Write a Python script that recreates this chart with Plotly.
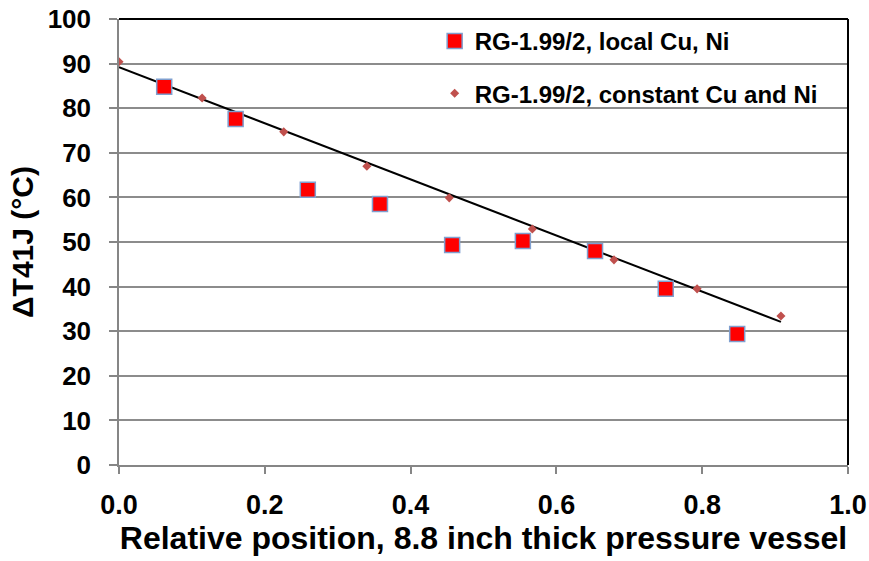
import numpy as np
import plotly.graph_objects as go

# Data
local_x = [0.062, 0.160, 0.259, 0.358, 0.457, 0.554, 0.653, 0.750, 0.848]
local_y = [84.8, 77.6, 61.7, 58.5, 49.3, 50.2, 48.0, 39.5, 29.4]

const_x = [0.0, 0.114, 0.226, 0.340, 0.453, 0.567, 0.679, 0.793, 0.908]
const_y = [90.4, 82.3, 74.7, 67.0, 59.9, 52.9, 46.0, 39.5, 33.4]

x_ticks = [0.0, 0.2, 0.4, 0.6, 0.8, 1.0]
x_tick_labels = ["0.0", "0.2", "0.4", "0.6", "0.8", "1.0"]
y_ticks = list(range(0, 101, 10))
y_tick_labels = [str(v) for v in y_ticks]

# Linear trendline of the constant-Cu/Ni series
slope, intercept = np.polyfit(const_x, const_y, 1)
trend_x = [const_x[0], const_x[-1]]
trend_y = [intercept + slope * v for v in trend_x]

FONT = "Liberation Sans, Arial, sans-serif"

def b(s):
    return "<b>" + s + "</b>"

fig = go.Figure()
fig.add_trace(go.Scatter(
    x=trend_x, y=trend_y, mode="lines",
    line=dict(color="black", width=2), showlegend=False, hoverinfo="skip"))
fig.add_trace(go.Scatter(
    x=local_x, y=local_y, mode="markers", name=b("RG-1.99/2, local Cu, Ni"),
    legendgroup="a",
    marker=dict(symbol="square", size=15, color="#ff0000",
                line=dict(color="#7f9fcf", width=1.5))))
fig.add_trace(go.Scatter(
    x=const_x, y=const_y, mode="markers", name=b("RG-1.99/2, constant Cu and Ni"),
    legendgroup="b",
    marker=dict(symbol="diamond", size=7, color="#c0504d")))

fig.update_layout(
    width=869, height=561,
    margin=dict(l=119, r=21, t=19, b=96),
    paper_bgcolor="white", plot_bgcolor="white",
    font=dict(family=FONT, color="black"),
    legend=dict(
        x=0.433, y=1.0, xanchor="left", yanchor="top",
        bgcolor="rgba(255,255,255,0)", borderwidth=0,
        font=dict(family=FONT, size=24, color="black"),
        tracegroupgap=18, itemsizing="trace"),
    xaxis=dict(
        range=[0, 1.0], tickvals=x_ticks, ticktext=[b(t) for t in x_tick_labels],
        automargin=False, ticklabeloverflow="allow",
        showgrid=False, zeroline=False,
        showline=True, linecolor="#868686", linewidth=1.5,
        ticks="outside", ticklen=7, tickcolor="#868686", tickwidth=1.5,
        ticklabelstandoff=8,
        tickfont=dict(family=FONT, size=27, color="black"),
        title=dict(text=b("Relative position, 8.8 inch thick pressure vessel"),
                   font=dict(family=FONT, size=32, color="black"),
                   standoff=7)),
    yaxis=dict(
        range=[0, 100], tickvals=y_ticks, ticktext=[b(t) for t in y_tick_labels],
        automargin=False, ticklabeloverflow="allow",
        showgrid=True, gridcolor="#8c8c8c", gridwidth=1.5, zeroline=False,
        showline=True, linecolor="#868686", linewidth=1.5,
        ticks="outside", ticklen=8, tickcolor="#868686", tickwidth=1.5,
        ticklabelstandoff=13,
        tickfont=dict(family=FONT, size=26, color="black"),
        title=dict(text=b("ΔT41J (°C)"),
                   font=dict(family=FONT, size=30, color="black"),
                   standoff=5)),
)

# black frame lines on top and right side of the plot area
fig.add_shape(type="line", xref="paper", yref="paper", x0=0, x1=1, y0=1, y1=1,
              line=dict(color="black", width=2))
fig.add_shape(type="line", xref="paper", yref="paper", x0=1, x1=1, y0=0, y1=1,
              line=dict(color="black", width=2))

fig.write_html(
    "out.html",
    config={"displayModeBar": False},
    post_script="document.body.style.margin='0';document.body.style.overflow='hidden';")
